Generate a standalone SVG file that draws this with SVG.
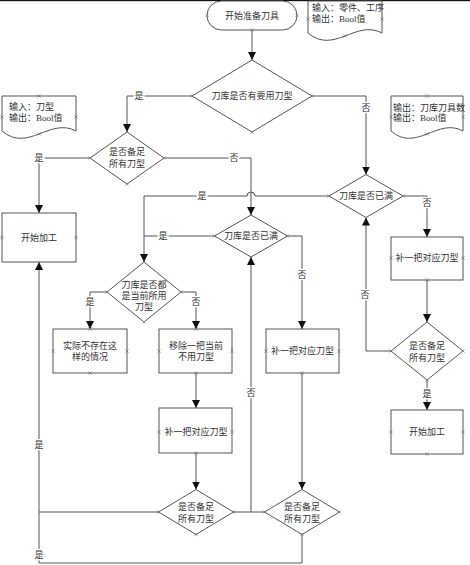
<svg xmlns="http://www.w3.org/2000/svg" xmlns:xlink="http://www.w3.org/1999/xlink" width="470" height="565" viewBox="0 0 470 565">
<style>
  .shape{fill:#fff;stroke:#555;stroke-width:1}
  .t{font-family:"Liberation Serif","Noto Sans CJK SC",serif;font-size:9px;fill:#333;text-anchor:middle;dominant-baseline:central}
  .tl{font-family:"Liberation Serif","Noto Sans CJK SC",serif;font-size:9px;fill:#333;dominant-baseline:central}
  .c{fill:none;stroke:#555;stroke-width:1}
  .a{marker-end:url(#arr)}
  .lbl{font-family:"Liberation Serif","Noto Sans CJK SC",serif;font-size:9px;fill:#333;text-anchor:middle;dominant-baseline:central;stroke:#fff;stroke-width:3;paint-order:stroke}
</style>
<defs>
  <marker id="arr" markerUnits="userSpaceOnUse" markerWidth="8" markerHeight="9" refX="8" refY="4" orient="auto">
    <path d="M0,0 L8,4 L0,8 Z" fill="#111"/>
  </marker>
  <path id="x" d="M-1.6,-1.6L1.6,1.6M-1.6,1.6L1.6,-1.6" stroke="#777" stroke-width="0.7" fill="none"/>
</defs>
<rect width="470" height="565" fill="#fff"/>
<rect x="0" y="0" width="470" height="1.2" fill="#111"/>

<g id="connectors">
  <path class="c a" d="M252,30 V60"/>
  <path class="c a" d="M192,96 H127 V132"/>
  <path class="c a" d="M312,96 H366 V174.5"/>
  <path class="c a" d="M90,158 H39 V213"/>
  <path class="c a" d="M164,158 H251 V215"/>
  <path class="c a" d="M329,196 H255 A4,4 0 0 0 247,196 H144 V262"/>
  <path class="c" d="M214.5,236 H144"/>
  <path class="c a" d="M287.5,236 H302 V329"/>
  <path class="c a" d="M107,292 H90 V329"/>
  <path class="c a" d="M181,292 H196 V329"/>
  <path class="c a" d="M196,373 V408"/>
  <path class="c a" d="M196,453 V489.5"/>
  <path class="c" d="M158.5,512 H39"/>
  <path class="c a" d="M233.5,512 H251 V257"/>
  <path class="c" d="M264.5,512 H251"/>
  <path class="c a" d="M302,373 V489.5"/>
  <path class="c a" d="M302,534.5 V563 H39 V262"/>
  <path class="c a" d="M403,196 H427 V237"/>
  <path class="c a" d="M427,280 V322"/>
  <path class="c a" d="M391,351 H366 V217.5"/>
  <path class="c a" d="M427,380 V410"/>
  <text class="lbl" x="139" y="96">是</text>
  <text class="lbl" x="366" y="108">否</text>
  <text class="lbl" x="39" y="158">是</text>
  <text class="lbl" x="234" y="158">否</text>
  <text class="lbl" x="202" y="196">是</text>
  <text class="lbl" x="163" y="236">是</text>
  <text class="lbl" x="302" y="275">否</text>
  <text class="lbl" x="90" y="302">是</text>
  <text class="lbl" x="196" y="302">否</text>
  <text class="lbl" x="251" y="393">否</text>
  <text class="lbl" x="39" y="445">是</text>
  <text class="lbl" x="39" y="555">是</text>
  <text class="lbl" x="427" y="203">否</text>
  <text class="lbl" x="365" y="295">否</text>
  <text class="lbl" x="427" y="394">是</text>
</g>

<g id="start">
  <rect class="shape" x="207" y="1" width="90" height="29" rx="14.5"/>
  <text class="t" x="252" y="15.5">开始准备刀具</text>
  <use href="#x" x="207" y="15.5"/><use href="#x" x="297" y="15.5"/><use href="#x" x="252" y="30"/>
</g>

<g id="doc-top">
  <path class="shape" d="M308,1 H382 V33 C356,19 334,55 308,33 Z"/>
  <text class="tl" x="312" y="8">输入：零件、工序</text>
  <text class="tl" x="312" y="19">输出：Bool值</text>
  <use href="#x" x="308" y="19"/><use href="#x" x="382" y="19"/><use href="#x" x="345" y="36"/>
</g>

<g id="doc-left">
  <path class="shape" d="M2,96 H76 V131 C50,117 28,153 2,131 Z"/>
  <text class="tl" x="9" y="107">输入：刀型</text>
  <text class="tl" x="9" y="118">输出：Bool值</text>
  <use href="#x" x="39" y="96"/><use href="#x" x="2" y="117"/><use href="#x" x="76" y="117"/><use href="#x" x="39" y="134"/>
</g>

<g id="doc-right">
  <path class="shape" d="M391,96 H463 V131 C438,117 416,153 391,131 Z"/>
  <text class="tl" x="393" y="108">输出：刀库刀具数</text>
  <text class="tl" x="393" y="118">输出：Bool值</text>
  <use href="#x" x="427" y="96"/><use href="#x" x="391" y="117"/><use href="#x" x="463" y="117"/><use href="#x" x="427" y="134"/>
</g>

<g id="d1">
  <path class="shape" d="M252,60 L312,96 L252,132 L192,96 Z"/>
  <text class="t" x="252" y="96">刀库是否有要用刀型</text>
  <use href="#x" x="192" y="96"/><use href="#x" x="312" y="96"/><use href="#x" x="252" y="132"/>
</g>

<g id="d2">
  <path class="shape" d="M127,132 L164,158 L127,184 L90,158 Z"/>
  <text class="t" x="127" y="152">是否备足</text>
  <text class="t" x="127" y="164">所有刀型</text>
  <use href="#x" x="90" y="158"/><use href="#x" x="164" y="158"/><use href="#x" x="127" y="184"/>
</g>

<g id="start-work-left">
  <rect class="shape" x="2" y="213" width="74" height="49"/>
  <text class="t" x="39" y="237.5">开始加工</text>
  <use href="#x" x="2" y="237.5"/><use href="#x" x="76" y="237.5"/>
</g>

<g id="d-full-right">
  <path class="shape" d="M366,174.5 L403,196 L366,217.5 L329,196 Z"/>
  <text class="t" x="366" y="196">刀库是否已满</text>
  <use href="#x" x="329" y="196"/><use href="#x" x="403" y="196"/>
</g>

<g id="d-full-mid">
  <path class="shape" d="M251,215 L287.5,236 L251,257 L214.5,236 Z"/>
  <text class="t" x="251" y="236">刀库是否已满</text>
  <use href="#x" x="214.5" y="236"/><use href="#x" x="287.5" y="236"/>
</g>

<g id="d-current">
  <path class="shape" d="M144,262 L181,292 L144,322 L107,292 Z"/>
  <text class="t" x="144" y="285">刀库是否都</text>
  <text class="t" x="144" y="296">是当前所用</text>
  <text class="t" x="144" y="307">刀型</text>
  <use href="#x" x="107" y="292"/><use href="#x" x="181" y="292"/><use href="#x" x="144" y="322"/>
</g>

<g id="box-none">
  <rect class="shape" x="53" y="329" width="74" height="44"/>
  <text class="t" x="90" y="346">实际不存在这</text>
  <text class="t" x="90" y="357">样的情况</text>
  <use href="#x" x="90" y="329"/><use href="#x" x="53" y="351"/><use href="#x" x="127" y="351"/><use href="#x" x="90" y="373"/>
</g>

<g id="box-remove">
  <rect class="shape" x="159" y="329" width="73" height="44"/>
  <text class="t" x="196" y="346">移除一把当前</text>
  <text class="t" x="196" y="357">不用刀型</text>
  <use href="#x" x="196" y="329"/><use href="#x" x="159" y="351"/><use href="#x" x="232" y="351"/><use href="#x" x="196" y="373"/>
</g>

<g id="box-add-left">
  <rect class="shape" x="159" y="408" width="73" height="45"/>
  <text class="t" x="196" y="432">补一把对应刀型</text>
  <use href="#x" x="159" y="432"/><use href="#x" x="232" y="432"/><use href="#x" x="196" y="453"/>
</g>

<g id="box-add-mid">
  <rect class="shape" x="266" y="329" width="73" height="44"/>
  <text class="t" x="302.5" y="351">补一把对应刀型</text>
  <use href="#x" x="266" y="351"/><use href="#x" x="339" y="351"/><use href="#x" x="302" y="373"/>
</g>

<g id="d-enough-bl">
  <path class="shape" d="M196,489.5 L233.5,512 L196,534.5 L158.5,512 Z"/>
  <text class="t" x="196" y="507">是否备足</text>
  <text class="t" x="196" y="519">所有刀型</text>
  <use href="#x" x="158.5" y="512"/><use href="#x" x="233.5" y="512"/><use href="#x" x="196" y="534.5"/>
</g>

<g id="d-enough-br">
  <path class="shape" d="M302,489.5 L339.5,512 L302,534.5 L264.5,512 Z"/>
  <text class="t" x="302" y="507">是否备足</text>
  <text class="t" x="302" y="519">所有刀型</text>
  <use href="#x" x="264.5" y="512"/><use href="#x" x="339.5" y="512"/><use href="#x" x="302" y="534.5"/>
</g>

<g id="box-add-right">
  <rect class="shape" x="391" y="237" width="72" height="43"/>
  <text class="t" x="427" y="258">补一把对应刀型</text>
  <use href="#x" x="391" y="258"/><use href="#x" x="463" y="258"/><use href="#x" x="427" y="280"/>
</g>

<g id="d-enough-r">
  <path class="shape" d="M427,322 L463,351 L427,380 L391,351 Z"/>
  <text class="t" x="427" y="346">是否备足</text>
  <text class="t" x="427" y="358">所有刀型</text>
  <use href="#x" x="391" y="351"/><use href="#x" x="463" y="351"/><use href="#x" x="427" y="380"/>
</g>

<g id="start-work-right">
  <rect class="shape" x="391" y="410" width="72" height="44"/>
  <text class="t" x="427" y="432">开始加工</text>
  <use href="#x" x="391" y="432"/><use href="#x" x="463" y="432"/><use href="#x" x="427" y="454"/>
</g>
</svg>
